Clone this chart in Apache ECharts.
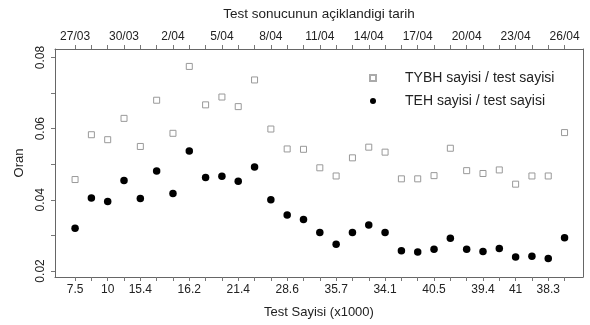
<!DOCTYPE html>
<html>
<head>
<meta charset="utf-8">
<script src="https://cdn.jsdelivr.net/npm/echarts@6/dist/echarts.min.js"></script>
<style>
  html, body { margin: 0; padding: 0; background: #fff; }
  #chart { width: 590px; height: 325px; }
</style>
</head>
<body>
<div id="chart"></div>
<script>
// gun sirasi (27/03 -> 26/04)
var dayIndex = [0, 1, 2, 3, 4, 5, 6, 7, 8, 9, 10, 11, 12, 13, 14, 15, 16, 17, 18, 19, 20, 21, 22, 23, 24, 25, 26, 27, 28, 29, 30];

// ust eksen: tarih
var dateTickIdx = [0, 3, 6, 9, 12, 15, 18, 21, 24, 27, 30];
var dateLabels = ['27/03', '30/03', '2/04', '5/04', '8/04', '11/04', '14/04', '17/04', '20/04', '23/04', '26/04'];

// alt eksen: test sayisi (x1000)
var testTickIdx = [0, 2, 4, 7, 10, 13, 16, 19, 22, 25, 27, 29];
var testLabels = ['7.5', '10', '15.4', '16.2', '21.4', '28.6', '35.7', '34.1', '40.5', '39.4', '41', '38.3'];

// y ekseni
var yTicks = [0.02, 0.03, 0.04, 0.05, 0.06, 0.07, 0.08];
var yLabelVals = [0.02, 0.04, 0.06, 0.08];

// TYBH sayisi / test sayisi
var tybh = [0.0457, 0.0583, 0.0569, 0.0629, 0.0550, 0.0680, 0.0587, 0.0775, 0.0667, 0.0689,
  0.0662, 0.0737, 0.0599, 0.0543, 0.0542, 0.0490, 0.0467, 0.0518, 0.0548, 0.0534,
  0.0459, 0.0459, 0.0468, 0.0545, 0.0482, 0.0474, 0.0484, 0.0444, 0.0467, 0.0467, 0.0589];

// TEH sayisi / test sayisi
var teh = [0.0320, 0.0405, 0.0395, 0.0454, 0.0404, 0.0481, 0.0418, 0.0537, 0.0463, 0.0466,
  0.0452, 0.0492, 0.0400, 0.0357, 0.0345, 0.0308, 0.0275, 0.0308, 0.0329, 0.0308,
  0.0257, 0.0253, 0.0261, 0.0292, 0.0261, 0.0255, 0.0263, 0.0239, 0.0241, 0.0235, 0.0293];

function pairs(vals) {
  var out = [];
  for (var i = 0; i < vals.length; i++) {
    out.push([dayIndex[i], vals[i]]);
  }
  return out;
}

var FONT = 'Liberation Sans, Arial, sans-serif';
var TXT = '#222';
var FRAME = { show: true, onZero: false, lineStyle: { color: '#666', width: 1 } };
var TICK = { color: '#777' };

var chart = echarts.init(document.getElementById('chart'));
chart.setOption({
  animation: false,
  grid: { left: 55, right: 7, top: 49, bottom: 48, outerBoundsMode: 'none', containLabel: false },
  legend: {
    orient: 'vertical',
    left: 364,
    top: 66,
    itemGap: 9,
    itemWidth: 6,
    itemHeight: 6,
    textStyle: { fontFamily: FONT, fontSize: 14, color: TXT, padding: [0, 0, 0, 24] },
    data: [
      { name: 'TYBH sayisi / test sayisi', icon: 'rect', itemStyle: { borderColor: '#aaa' } },
      { name: 'TEH sayisi / test sayisi', icon: 'circle' }
    ]
  },
  xAxis: [{
    type: 'value',
    position: 'bottom',
    min: -1.23,
    max: 31.13,
    name: 'Test Sayisi (x1000)',
    nameLocation: 'middle',
    nameGap: 29,
    nameTextStyle: { fontFamily: FONT, fontSize: 13, color: TXT },
    axisLine: FRAME,
    splitLine: { show: false },
    axisTick: { show: true, length: 4, customValues: dayIndex, lineStyle: TICK },
    axisLabel: {
      customValues: testTickIdx,
      margin: 7,
      fontFamily: FONT, fontSize: 12, color: TXT,
      formatter: function (v) { return testLabels[testTickIdx.indexOf(Math.round(v))]; }
    }
  }, {
    type: 'value',
    position: 'top',
    min: -1.23,
    max: 31.13,
    name: 'Test sonucunun açiklandigi tarih',
    nameLocation: 'middle',
    nameGap: 28,
    nameTextStyle: { fontFamily: FONT, fontSize: 13.5, color: TXT },
    axisLine: FRAME,
    splitLine: { show: false },
    axisTick: { show: true, length: 4, customValues: dayIndex, lineStyle: TICK },
    axisLabel: {
      customValues: dateTickIdx,
      margin: 6,
      fontFamily: FONT, fontSize: 12, color: TXT,
      formatter: function (v) { return dateLabels[dateTickIdx.indexOf(Math.round(v))]; }
    }
  }],
  yAxis: [{
    type: 'value',
    position: 'left',
    min: 0.0183,
    max: 0.0824,
    name: 'Oran',
    nameLocation: 'middle',
    nameRotate: 90,
    nameGap: 29,
    nameTextStyle: { fontFamily: FONT, fontSize: 13, color: TXT },
    axisLine: FRAME,
    splitLine: { show: false },
    axisTick: { show: true, length: 4, customValues: yTicks, lineStyle: TICK },
    axisLabel: {
      customValues: yLabelVals,
      rotate: 90,
      margin: 8,
      fontFamily: FONT, fontSize: 12, color: TXT,
      formatter: function (v) { return v.toFixed(2); }
    }
  }, {
    type: 'value',
    position: 'right',
    min: 0.0183,
    max: 0.0824,
    axisLine: FRAME,
    splitLine: { show: false },
    axisTick: { show: false },
    axisLabel: { show: false }
  }],
  series: [{
    name: 'TYBH sayisi / test sayisi',
    type: 'scatter',
    symbol: 'rect',
    symbolSize: 6,
    itemStyle: { color: '#fff', borderColor: '#999', borderWidth: 1, opacity: 1 },
    data: pairs(tybh)
  }, {
    name: 'TEH sayisi / test sayisi',
    type: 'scatter',
    symbol: 'circle',
    symbolSize: 7.5,
    itemStyle: { color: '#000', opacity: 1 },
    data: pairs(teh)
  }]
});
</script>
</body>
</html>
